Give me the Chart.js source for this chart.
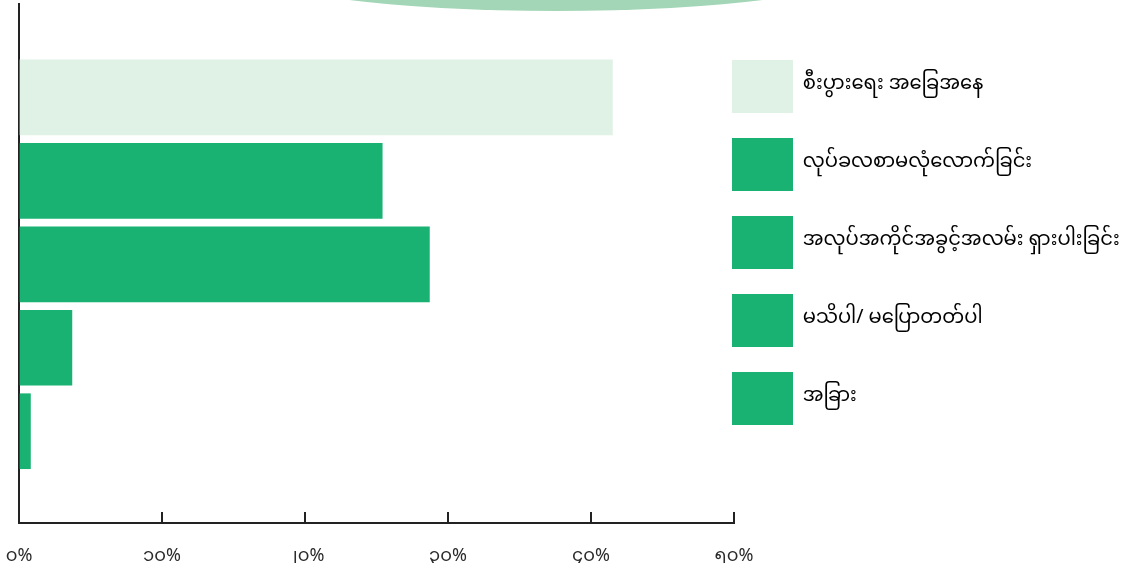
<!DOCTYPE html>
<html>
<head>
<meta charset="utf-8">
<script src="https://cdn.jsdelivr.net/npm/chart.js@4"></script>
<style>
  html, body { margin: 0; padding: 0; background: #ffffff; }
  #wrap { width: 1131px; height: 571px; }
</style>
</head>
<body>
<div id="wrap"><canvas id="c" width="1131" height="571"></canvas></div>
<script>
const categories = [
  'စီးပွားရေး အခြေအနေ',
  'လုပ်ခလစာမလုံလောက်ခြင်း',
  'အလုပ်အကိုင်အခွင့်အလမ်း ရှားပါးခြင်း',
  'မသိပါ/ မပြောတတ်ပါ',
  'အခြား'
];
const values = [41.5, 25.4, 28.7, 3.7, 0.8];
const xTickLabels = ['၀%', '၁၀%', '၂၀%', '၃၀%', '၄၀%', '၅၀%'];

const LIGHT = '#e0f1e6';
const GREEN = '#19b272';
const barColors = [LIGHT, GREEN, GREEN, GREEN, GREEN];
const FONT = "'Noto Sans Myanmar', 'Padauk', 'Myanmar Text', 'Noto Sans', 'DejaVu Sans', sans-serif";
const LEGEND_W = 397;

const decoArc = {
  id: 'decoArc',
  beforeDraw(chart) {
    const ctx = chart.ctx;
    ctx.save();
    ctx.fillStyle = '#a3d6b6';
    ctx.beginPath();
    ctx.ellipse(556, -29, 300, 40, 0, 0, Math.PI * 2);
    ctx.fill();
    ctx.restore();
  }
};

const legendPlace = {
  id: 'legendPlace',
  beforeLayout(chart) {
    const lg = chart.legend;
    if (lg && !lg._fixedFit) {
      const fit = lg.fit;
      lg.fit = function () { fit.call(this); this.width = LEGEND_W; };
      lg._fixedFit = true;
    }
  },
  afterLayout(chart) {
    const lg = chart.legend;
    lg.left = chart.chartArea.right - 27;
    lg.right = chart.width;
    lg.top = 35;
    lg.bottom = chart.height;
  }
};

new Chart(document.getElementById('c'), {
  type: 'bar',
  data: {
    datasets: [{
      data: values.map((v, i) => ({ x: v, y: i })),
      backgroundColor: barColors,
      borderWidth: 0,
      barThickness: 75
    }]
  },
  options: {
    indexAxis: 'y',
    responsive: false,
    animation: false,
    layout: { padding: { left: 19, top: 4, right: 0, bottom: 8 } },
    scales: {
      x: {
        type: 'linear',
        position: 'bottom',
        min: 0,
        max: 50,
        afterFit(scale) {
          scale.height = 40;
          scale.paddingLeft = 0;
          scale.paddingRight = 0;
        },
        ticks: {
          stepSize: 10,
          padding: 36,
          color: '#2b2b2b',
          font: { family: FONT, size: 18 },
          callback: (v, i) => xTickLabels[i]
        },
        grid: {
          display: true,
          drawOnChartArea: false,
          drawTicks: true,
          tickLength: -11,
          color: '#222222',
          lineWidth: 2
        },
        border: { display: true, color: '#222222', width: 2 }
      },
      y: {
        type: 'linear',
        position: 'left',
        reverse: true,
        offset: false,
        min: -1.12,
        max: 5.1,
        ticks: { display: false },
        grid: { display: false, drawTicks: false, offset: false },
        border: { display: true, color: '#222222', width: 2 }
      }
    },
    plugins: {
      tooltip: { enabled: false },
      legend: {
        position: 'right',
        align: 'start',
        labels: {
          boxWidth: 61,
          boxHeight: 53,
          padding: 25,
          color: '#222222',
          font: { family: FONT, size: 19.5 },
          generateLabels: () => categories.map((c, i) => ({
            text: c,
            fillStyle: barColors[i],
            strokeStyle: barColors[i],
            lineWidth: 0,
            hidden: false,
            index: i
          }))
        }
      }
    }
  },
  plugins: [decoArc, legendPlace]
});
</script>
</body>
</html>
